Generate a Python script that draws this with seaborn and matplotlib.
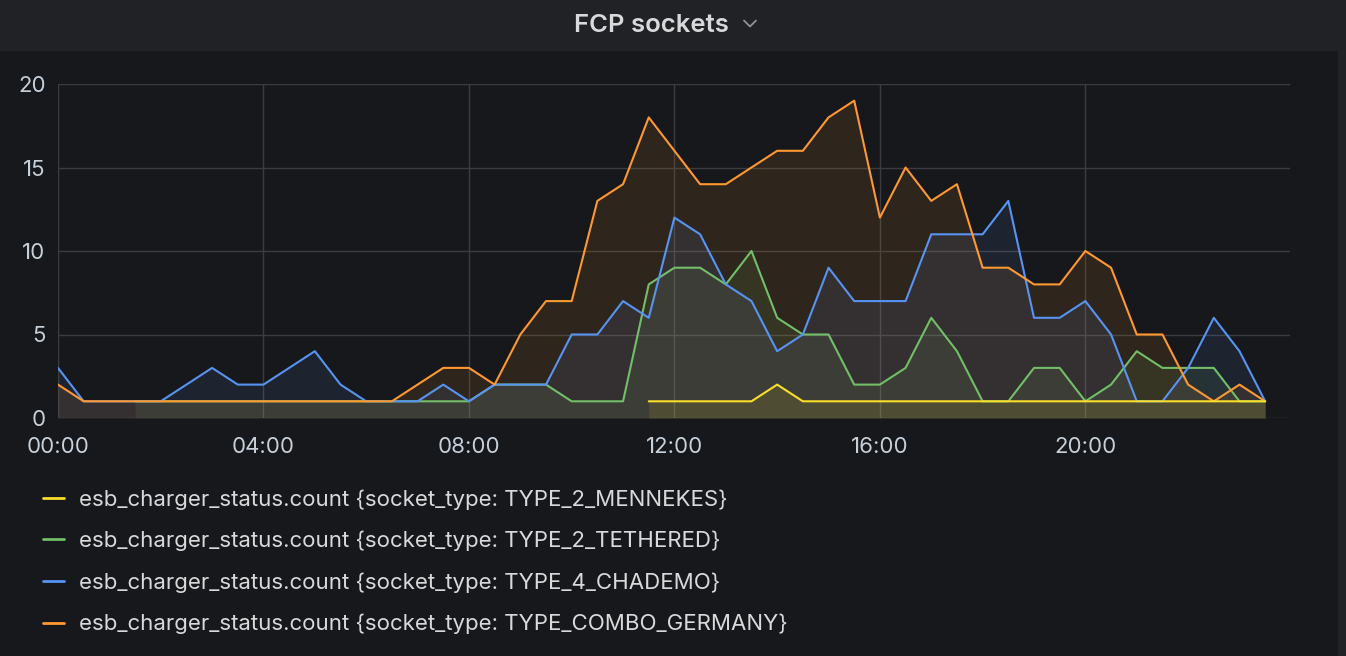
import numpy as np
import pandas as pd
import seaborn as sns
import matplotlib.pyplot as plt
import matplotlib.dates as mdates
from matplotlib.lines import Line2D
from matplotlib.patches import Rectangle

nan = np.nan

# 30-minute samples over one day
times = pd.date_range('2021-01-01 00:00', periods=48, freq='30min')

MENNEKES = [nan, nan, nan, nan, nan, nan, nan, nan, nan, nan, nan, nan,
            nan, nan, nan, nan, nan, nan, nan, nan, nan, nan, nan, 1,
            1, 1, 1, 1, 2, 1, 1, 1, 1, 1, 1, 1,
            1, 1, 1, 1, 1, 1, 1, 1, 1, 1, 1, 1]
TETHERED = [nan, nan, nan, 1, 1, 1, 1, 1, 1, 1, 1, 1,
            1, 1, 1, 1, 1, 2, 2, 2, 1, 1, 1, 8,
            9, 9, 8, 10, 6, 5, 5, 2, 2, 3, 6, 4,
            1, 1, 3, 3, 1, 2, 4, 3, 3, 3, 1, 1]
CHADEMO = [3, 1, 1, 1, 1, 2, 3, 2, 2, 3, 4, 2,
           1, 1, 1, 2, 1, 2, 2, 2, 5, 5, 7, 6,
           12, 11, 8, 7, 4, 5, 9, 7, 7, 7, 11, 11,
           11, 13, 6, 6, 7, 5, 1, 1, 3, 6, 4, 1]
COMBO = [2, 1, 1, 1, 1, 1, 1, 1, 1, 1, 1, 1,
         1, 1, 2, 3, 3, 2, 5, 7, 7, 13, 14, 18,
         16, 14, 14, 15, 16, 16, 18, 19, 12, 15, 13, 14,
         9, 9, 8, 8, 10, 9, 5, 5, 2, 1, 2, 1]

prefix = 'esb_charger_status.count {socket_type: '
labels = [prefix + 'TYPE_2_MENNEKES}', prefix + 'TYPE_2_TETHERED}',
          prefix + 'TYPE_4_CHADEMO}', prefix + 'TYPE_COMBO_GERMANY}']
colors = ['#FADE2A', '#73BF69', '#5794F2', '#FF9830']
series = [MENNEKES, TETHERED, CHADEMO, COMBO]

wide = pd.DataFrame({lab: vals for lab, vals in zip(labels, series)}, index=times)
wide.index.name = 'time'
df = wide.reset_index().melt(id_vars='time', var_name='series', value_name='count')

BG = '#17181b'
HEADER = '#202226'
GRID = '#3b3c40'
TEXT = '#c7d0d9'

sns.set_style('dark')
plt.rcParams['font.family'] = ['Inter', 'DejaVu Sans']

fig = plt.figure(figsize=(13.46, 6.56), dpi=100, facecolor=BG)
fig.patches.append(Rectangle((0, 1 - 50 / 656), 1, 50 / 656, transform=fig.transFigure,
                             color=HEADER, zorder=0))
fig.patches.append(Rectangle((1338 / 1346, 0), 8 / 1346, 1 - 50 / 656, transform=fig.transFigure,
                             color=HEADER, zorder=0))

ax = fig.add_axes([58 / 1346, 1 - 418 / 656, (1290 - 58) / 1346, (418 - 84) / 656])
ax.set_facecolor(BG)

# draw order: green, blue, orange, yellow on top
draw_order = [labels[1], labels[2], labels[3], labels[0]]
palette = dict(zip(labels, colors))
sns.lineplot(data=df, x='time', y='count', hue='series', hue_order=draw_order,
             palette=palette, estimator=None, linewidth=1.5, legend=False, ax=ax)

for lab in draw_order:
    ax.fill_between(wide.index, wide[lab].values, 0, color=palette[lab], alpha=0.1,
                    linewidth=0, zorder=1)

ax.set_ylim(0, 20)
ax.set_yticks([0, 5, 10, 15, 20])
ax.set_xlim(times[0], times[0] + pd.Timedelta(hours=23, minutes=59))
ax.xaxis.set_major_locator(mdates.HourLocator(byhour=range(0, 24, 4)))
ax.xaxis.set_major_formatter(mdates.DateFormatter('%H:%M'))

ax.grid(True, color=GRID, linewidth=1.0)
ax.set_axisbelow(True)
for s in ax.spines.values():
    s.set_visible(False)
ax.tick_params(axis='both', length=0, colors=TEXT, labelsize=16)
ax.tick_params(axis='x', pad=14)
ax.tick_params(axis='y', pad=9)
ax.set_xlabel('')
ax.set_ylabel('')

# title and dropdown chevron
fig.text(651 / 1346, 1 - 25 / 656, 'FCP sockets', ha='center', va='center',
         fontsize=18.5, fontweight=600, color='#d8d9da')
fig.lines.append(Line2D([744 / 1346, 750 / 1346, 756 / 1346],
                        [1 - 20.5 / 656, 1 - 26.5 / 656, 1 - 20.5 / 656],
                        transform=fig.transFigure, color='#8e9298', linewidth=1.3))

handles = [Line2D([], [], color=c, linewidth=2) for c in colors]
fig.legend(handles, labels, loc='upper left', bbox_to_anchor=(43 / 1346, 1 - 489 / 656),
           frameon=False, fontsize=16, labelcolor='#d8d9da', handlelength=0.95,
           handletextpad=0.68, labelspacing=0.95, borderaxespad=0, borderpad=0)

fig.savefig('out.png', dpi=100, facecolor=BG)
